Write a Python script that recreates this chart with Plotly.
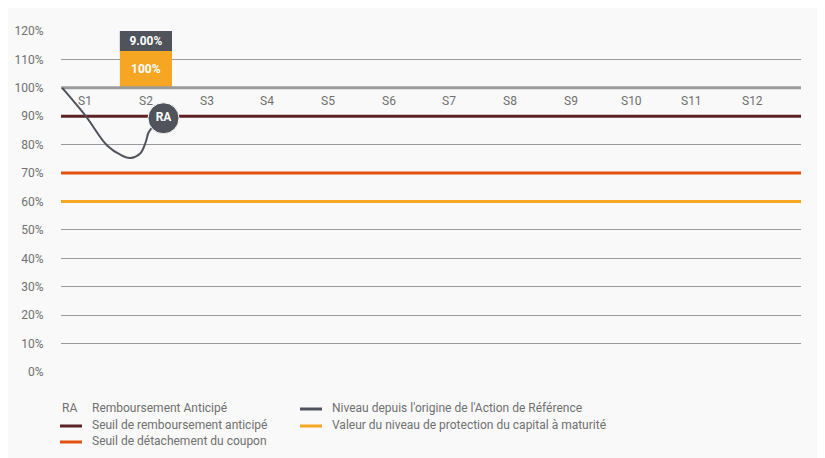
import plotly.graph_objects as go

# ---- data ----
periods = ["S1", "S2", "S3", "S4", "S5", "S6", "S7", "S8", "S9", "S10", "S11", "S12"]
period_x = list(range(1, 13))

# niveau de l'action (path from origin to the early redemption)
path_x = [0.62, 1.0, 1.36, 1.60, 1.74, 1.91, 1.99, 2.04, 2.08, 2.29]
path_y = [100.0, 90.3, 79.7, 76.2, 75.3, 77.0, 80.5, 84.1, 85.5, 89.3]

# early redemption point
ra_x = [2.29]
ra_y = [89.3]

# payout bar at S2: capital + coupon
bar_x = [2]
capital = [13]      # drawn from 100% to 113%
coupon = [7]        # drawn from 113% to 120%
capital_label = ["100%"]
coupon_label = ["9.00%"]

# levels
level_reference = 100
level_autocall = 90
level_coupon = 70
level_protection = 60

y_ticks = list(range(0, 130, 10))
y_labels = [f"{v}%" for v in y_ticks]
x_range = [0.6, 12.8]

c_grey = "#9b9b9b"
c_dark = "#50535c"
c_maroon = "#5b2324"
c_red = "#e3500f"
c_yellow = "#f5a623"
c_text = "#707070"
font = "Roboto"

OFF = 8  # page body margin
W, H = 825 - OFF, 458 - OFF
L, R, T, B = 61, 801, 31, 372


def px(x):
    return (x - L) / (R - L)


def py(y):
    return (B - y) / (B - T)


fig = go.Figure()

# horizontal level lines
for lvl, col in [(level_reference, c_grey), (level_autocall, c_maroon),
                 (level_coupon, c_red), (level_protection, c_yellow)]:
    fig.add_trace(go.Scatter(x=x_range, y=[lvl, lvl], mode="lines",
                             line=dict(color=col, width=3), hoverinfo="skip"))

fig.add_trace(go.Bar(x=bar_x, y=capital, base=[100], width=0.86,
                     marker=dict(color=c_yellow, line=dict(width=0)),
                     text=capital_label, textposition="inside", insidetextanchor="middle",
                     textfont=dict(color="white", size=12, family=font, weight="bold"),
                     hoverinfo="skip"))
fig.add_trace(go.Bar(x=bar_x, y=coupon, base=[100 + capital[0]], width=0.86,
                     marker=dict(color=c_dark, line=dict(width=0)),
                     text=coupon_label, textposition="inside", insidetextanchor="middle",
                     textfont=dict(color="white", size=12, family=font, weight="bold"),
                     hoverinfo="skip"))

fig.add_trace(go.Scatter(x=path_x, y=path_y, mode="lines",
                         line=dict(color=c_dark, width=2, shape="spline", smoothing=1.0),
                         hoverinfo="skip"))
fig.add_trace(go.Scatter(x=ra_x, y=ra_y, mode="markers+text", text=["RA"],
                         textposition="middle center",
                         textfont=dict(color="white", size=12, family=font, weight="bold"),
                         marker=dict(size=31, color=c_dark, line=dict(color="#f9f9f9", width=1)),
                         hoverinfo="skip"))

# period labels under the 100% line
for xv, lab in zip(period_x, periods):
    fig.add_annotation(x=xv, y=95.4, text=lab, showarrow=False,
                       font=dict(size=12, color=c_text, family=font))

# legend
fig.add_annotation(x=px(60), y=py(408), xref="paper", yref="paper", text="RA",
                   showarrow=False, xanchor="left", yanchor="middle",
                   font=dict(size=12, color=c_text, family=font))
legend_items = [
    (90, 408, None, "Remboursement Anticipé"),
    (90, 425, c_maroon, "Seuil de remboursement anticipé"),
    (90, 441, c_red, "Seuil de détachement du coupon"),
    (330, 408, c_dark, "Niveau depuis l'origine de l'Action de Référence"),
    (330, 425, c_yellow, "Valeur du niveau de protection du capital à maturité"),
]
for tx, ty, col, lab in legend_items:
    if col:
        fig.add_shape(type="line", xref="paper", yref="paper",
                      x0=px(tx - 30), x1=px(tx - 8), y0=py(ty + 1), y1=py(ty + 1),
                      line=dict(color=col, width=3))
    fig.add_annotation(x=px(tx), y=py(ty), xref="paper", yref="paper", text=lab,
                       showarrow=False, xanchor="left", yanchor="middle",
                       font=dict(size=12, color=c_text, family=font))

fig.update_layout(
    width=W, height=H,
    margin=dict(l=L - OFF, r=825 - R, t=T - OFF, b=458 - B),
    paper_bgcolor="#f9f9f9", plot_bgcolor="#f9f9f9",
    showlegend=False, barmode="overlay",
    font=dict(family=font, size=12, color=c_text),
)
fig.update_xaxes(range=x_range, showgrid=False, zeroline=False,
                 showticklabels=False, showline=False, automargin=False)
fig.update_yaxes(range=[0, 120], tickvals=y_ticks, ticktext=y_labels,
                 showgrid=True, gridcolor="#9a9a9a", gridwidth=1,
                 zeroline=False, showline=False, automargin=False,
                 ticks="outside", ticklen=14, tickcolor="rgba(0,0,0,0)",
                 tickfont=dict(size=12, color=c_text, family=font))

fig.write_html("out.html")
